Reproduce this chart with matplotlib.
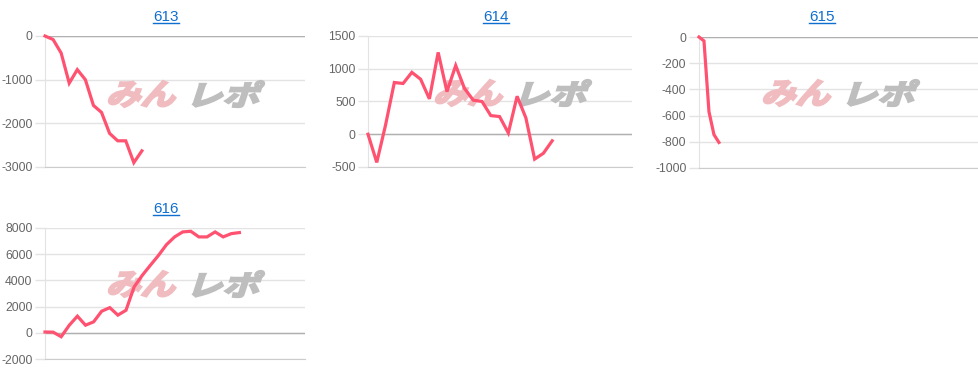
import matplotlib
matplotlib.use("Agg")
import matplotlib.pyplot as plt
import matplotlib.transforms as mtransforms
import numpy as np
from matplotlib.font_manager import FontProperties
from matplotlib.lines import Line2D
from matplotlib.patches import PathPatch
from matplotlib.textpath import TextPath

plt.rcParams["font.family"] = ["Liberation Sans", "DejaVu Sans"]

W, H = 979, 382

titles = ["613", "614", "615", "616"]
values_613 = [0, -80, -390, -1080, -770, -1000, -1590, -1750, -2230, -2400, -2400, -2900, -2630]
values_614 = [0, -430, 140, 790, 775, 945, 840, 540, 1250, 650, 1050, 700, 520, 500,
              285, 270, 20, 580, 250, -380, -290, -100]
values_615 = [0, -30, -570, -745, -805]
values_616 = [60, 50, -300, 580, 1270, 580, 835, 1650, 1920, 1350, 1720, 3500, 4380,
              5150, 5900, 6730, 7320, 7700, 7750, 7320, 7320, 7700, 7320, 7570, 7650]
yticks_613 = [-3000, -2000, -1000, 0]
yticks_614 = [-500, 0, 500, 1000, 1500]
yticks_615 = [-1000, -800, -600, -400, -200, 0]
yticks_616 = [-2000, 0, 2000, 4000, 6000, 8000]

# pixel boxes: left, top, right, bottom ; x span of category axis ; title centre ; watermark centre
panels = [
    (values_613, yticks_613, (45, 36, 305, 167), 32.2, (166, 17), (185, 94)),
    (values_614, yticks_614, (368, 36, 632, 167), 30.1, (496, 17), (512, 93)),
    (values_615, yticks_615, (699, 37, 978, 168), 56.0, (822, 17), (840, 93)),
    (values_616, yticks_616, (45, 228, 305, 359), 32.1, (166, 209), (185, 284)),
]

LINE = "#ff5271"
GRID = "#e3e3e3"
BASE = "#b0b0b0"
TXT = "#666666"
LINK = "#0f6fcf"

fig = plt.figure(figsize=(W / 100, H / 100), dpi=100)

jp = FontProperties(family="Noto Sans CJK JP", weight="bold")


def place_logo(ax, text, box, color):
    # slanted heavy text filling a pixel box, drawn under the line
    x0, y0, x1, y1 = box
    tp = TextPath((0, 0), text, size=1, prop=jp)
    verts = tp.vertices
    mn = verts.min(axis=0)
    mx = verts.max(axis=0)
    w, h = x1 - x0, y1 - y0
    slant = np.tan(np.radians(18))
    wf = w - h * slant
    tr = (mtransforms.Affine2D()
          .translate(-mn[0], -mn[1])
          .scale(wf / (mx[0] - mn[0]), h / (mx[1] - mn[1]))
          .skew(np.radians(18), 0)
          .translate(x0, H - y1))
    patch = PathPatch(tp, transform=tr, facecolor=color, edgecolor=color,
                      linewidth=1.6, joinstyle="miter", zorder=1)
    ax.add_artist(patch)


title_texts = []
for (vals, yt, (l, t, r, b), xspan, tpos, wpos), name in zip(panels, titles):
    ax = fig.add_axes([l / W, 1 - b / H, (r - l) / W, (b - t) / H])
    ax.plot(np.arange(len(vals)), vals, color=LINE, linewidth=2.3,
            solid_joinstyle="miter", zorder=3, clip_on=False)
    ax.set_xlim(0, xspan)
    ax.set_ylim(yt[0], yt[-1])
    ax.set_yticks(yt)
    ax.set_yticklabels([str(v) for v in yt])
    ax.set_xticks([])
    ax.yaxis.grid(True, color=GRID, linewidth=1)
    ax.axhline(0, color=BASE, linewidth=1, zorder=2)
    ax.tick_params(axis="y", length=7.5, color=GRID, width=1, pad=1.5,
                   labelsize=8.8, labelcolor=TXT)
    for side in ["top", "right"]:
        ax.spines[side].set_visible(False)
    ax.spines["left"].set_color(GRID)
    ax.spines["bottom"].set_color("#cccccc")
    ax.set_axisbelow(True)

    cx, cy = wpos
    place_logo(ax, "みん", (cx - 80, cy - 13, cx - 4, cy + 13), "#f0bcc0")
    place_logo(ax, "レポ", (cx + 0, cy - 13, cx + 80, cy + 13), "#bebebe")

    tx = fig.text(tpos[0] / W, 1 - tpos[1] / H, name, color=LINK, fontsize=11,
                  ha="center", va="center")
    title_texts.append(tx)

# underline the titles like links
fig.canvas.draw()
renderer = fig.canvas.get_renderer()
for tx in title_texts:
    bb = tx.get_window_extent(renderer)
    yline = bb.y0 + 1
    fig.add_artist(Line2D([bb.x0 / W, bb.x1 / W], [yline / H, yline / H],
                          color=LINK, linewidth=1, transform=fig.transFigure))

fig.savefig("out.png", dpi=100)
